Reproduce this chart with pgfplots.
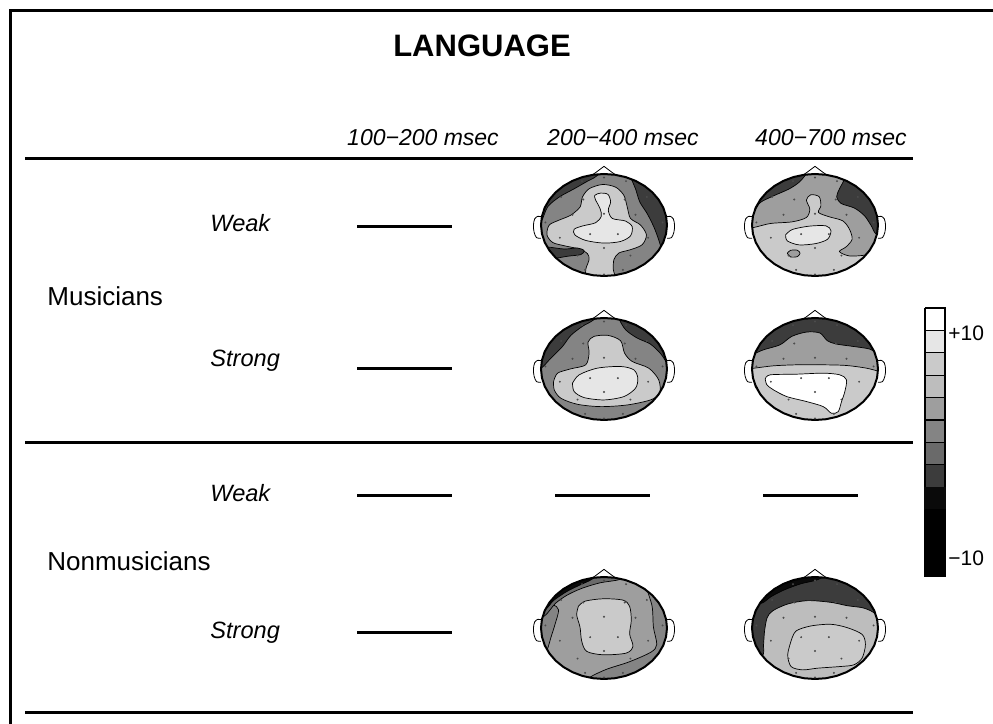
\documentclass[border=0pt]{standalone}
\usepackage{fontspec}
\setmainfont{Liberation Sans}
\usepackage{pgfplots}
\pgfplotsset{compat=1.18}
\usepackage{pgfplotstable}

\definecolor{g0}{HTML}{FFFFFF}
\definecolor{g1}{HTML}{E6E6E6}
\definecolor{g2}{HTML}{CACACA}
\definecolor{g3}{HTML}{BDBDBD}
\definecolor{g4}{HTML}{9E9E9E}
\definecolor{g5}{HTML}{848484}
\definecolor{g6}{HTML}{6A6A6A}
\definecolor{g7}{HTML}{3C3C3C}
\definecolor{g8}{HTML}{0A0A0A}

% unit head outline (10 degree steps)
\pgfplotstableread{
u v
1 0
0.985 0.174
0.940 0.342
0.866 0.5
0.766 0.643
0.643 0.766
0.5 0.866
0.342 0.940
0.174 0.985
0 1
-0.174 0.985
-0.342 0.940
-0.5 0.866
-0.643 0.766
-0.766 0.643
-0.866 0.5
-0.940 0.342
-0.985 0.174
-1 0
-0.985 -0.174
-0.940 -0.342
-0.866 -0.5
-0.766 -0.643
-0.643 -0.766
-0.5 -0.866
-0.342 -0.940
-0.174 -0.985
0 -1
0.174 -0.985
0.342 -0.940
0.5 -0.866
0.643 -0.766
0.766 -0.643
0.866 -0.5
0.940 -0.342
0.985 -0.174
1 0
}\headoutline

\pgfplotstableread{
u v
1 0
0.985 0.174
0.940 0.342
0.866 0.5
0.766 0.643
0.643 0.766
0.5 0.866
0.342 0.940
0.174 0.985
0 1
-0.174 0.985
-0.342 0.940
-0.5 0.866
-0.643 0.766
-0.766 0.643
-0.866 0.5
-0.940 0.342
-0.985 0.174
-1 0
-0.985 -0.174
-0.940 -0.342
-0.866 -0.5
-0.766 -0.643
-0.643 -0.766
-0.5 -0.866
-0.342 -0.940
-0.174 -0.985
0 -1
0.174 -0.985
0.342 -0.940
0.5 -0.866
0.643 -0.766
0.766 -0.643
0.866 -0.5
0.940 -0.342
0.985 -0.174
1 0
1.7 0
1.7 -1.7
-1.7 -1.7
-1.7 1.7
1.7 1.7
1.7 0
1 0
}\headmask

\pgfplotstableread{
u v
0 0.93
-0.35 0.86
0.35 0.86
-0.68 0.55
-0.33 0.5
0.33 0.5
0.68 0.55
-0.5 0.2
0 0.22
0.5 0.2
-0.93 0.05
0.93 0.05
-0.7 -0.25
-0.22 -0.18
0.22 -0.18
0.7 -0.25
0 -0.45
-0.42 -0.6
0.42 -0.6
-0.3 -0.88
0.3 -0.88
0 -0.97
}\electrodes

\pgfplotsset{
  headax/.style={hide axis, scale only axis, width=94.5pt, height=68.85pt,
    xmin=-1.5, xmax=1.5, ymin=-1.35, ymax=1.35, clip=true, anchor=center},
  zm/.style n args={4}{x filter/.expression={(x-#1)/#2}, y filter/.expression={(#3-y)/#4}},
  reg/.style={fill=#1, draw=black, line width=0.35pt, smooth, tension=0.5},
}

\newcommand{\headfinish}{%
  \addplot[fill=white, draw=none] table {\headmask};
  \addplot[only marks, mark=*, mark size=0.25pt, black!70] table {\electrodes};
  \addplot[fill=white, draw=black, line width=0.4pt] coordinates {(-0.18,0.984)(0,1.15)(0.18,0.984)};
  \addplot[fill=white, draw=black, line width=0.4pt, smooth] coordinates {(-0.99,0.16)(-1.05,0.17)(-1.10,0.12)(-1.12,0.0)(-1.11,-0.14)(-1.07,-0.25)(-1.0,-0.26)};
  \addplot[fill=white, draw=black, line width=0.4pt, smooth] coordinates {(0.99,0.16)(1.05,0.17)(1.10,0.12)(1.12,0.0)(1.11,-0.14)(1.07,-0.25)(1.0,-0.26)};
  \addplot[draw=black, line width=1pt] table {\headoutline};
}

\begin{document}
\begin{tikzpicture}

% ---------- Musicians, Weak, 200-400
\begin{axis}[headax, at={(302pt,249.5pt)}]
\addplot[fill=g5, draw=none] table {\headoutline};
\addplot[reg=g2, zm={250}{190}{195}{155}] coordinates {(195,365)(195,330)(205,300)(200,282)(175,268)(130,258)(95,248)(78,225)(85,195)(115,180)(150,165)(178,140)(185,110)(205,85)(245,72)(285,80)(310,105)(320,140)(330,175)(360,195)(378,225)(365,255)(330,270)(295,280)(280,300)(278,330)(280,365)(195,365)};
\addplot[reg=g1, zm={250}{190}{195}{155}] coordinates {(225,120)(222,105)(240,98)(262,102)(270,125)(263,150)(275,175)(315,183)(335,200)(330,228)(300,245)(250,250)(195,242)(162,225)(160,208)(185,198)(225,188)(242,168)(238,145)(225,120)};
\addplot[reg=g7, zm={250}{190}{195}{155}] coordinates {(30,200)(60,185)(80,140)(115,110)(160,85)(200,62)(225,48)(230,30)(30,30)(30,200)};
\addplot[reg=g7, zm={250}{190}{195}{155}] coordinates {(330,30)(330,48)(345,85)(358,125)(380,160)(400,200)(415,240)(425,275)(430,300)(470,330)(470,30)(330,30)};
\addplot[reg=g7, zm={250}{190}{195}{155}] coordinates {(30,262)(80,262)(130,268)(170,265)(190,273)(180,285)(140,290)(95,298)(30,308)(30,262)};
\headfinish
\end{axis}

% ---------- Musicians, Weak, 400-700
\begin{axis}[headax, at={(407.5pt,249.5pt)}]
\addplot[fill=g4, draw=none] table {\headoutline};
\addplot[reg=g2, zm={257.5}{187.5}{192.5}{152.5}] coordinates {(35,205)(75,200)(125,188)(190,183)(232,170)(242,145)(232,118)(245,102)(270,108)(275,135)(268,155)(300,168)(340,180)(360,205)(368,235)(350,258)(330,272)(360,285)(410,282)(440,270)(475,262)(475,355)(35,355)(35,205)};
\addplot[reg=g1, zm={257.5}{187.5}{192.5}{152.5}] coordinates {(170,222)(190,206)(240,196)(290,195)(305,210)(295,235)(260,248)(210,252)(175,240)(170,222)};
\addplot[reg=g4, zm={257.5}{187.5}{192.5}{152.5}] coordinates {(175,277)(185,268)(205,268)(213,277)(205,287)(185,288)(175,277)};
\addplot[reg=g7, zm={257.5}{187.5}{192.5}{152.5}] coordinates {(35,150)(75,150)(95,125)(135,105)(180,85)(210,65)(230,42)(235,30)(35,30)(35,150)};
\addplot[reg=g7, zm={257.5}{187.5}{192.5}{152.5}] coordinates {(345,30)(345,55)(330,85)(322,108)(335,128)(375,142)(405,165)(425,195)(440,220)(475,225)(475,30)(345,30)};
\headfinish
\end{axis}

% ---------- Musicians, Strong, 200-400
\begin{axis}[headax, at={(302pt,177.5pt)}]
\addplot[fill=g5, draw=none] table {\headoutline};
\addplot[reg=g2, zm={250}{190}{192.5}{152.5}] coordinates {(98,230)(110,205)(150,192)(195,180)(205,145)(202,112)(220,95)(262,92)(300,108)(312,145)(335,170)(385,190)(415,225)(418,265)(390,285)(320,300)(240,305)(170,298)(120,280)(100,255)(98,230)};
\addplot[reg=g1, zm={250}{190}{192.5}{152.5}] coordinates {(155,235)(175,210)(230,190)(300,185)(340,195)(352,220)(345,250)(310,275)(250,285)(190,278)(160,260)(155,235)};
\addplot[reg=g7, zm={250}{190}{192.5}{152.5}] coordinates {(30,195)(58,192)(90,160)(125,125)(150,92)(185,65)(215,48)(225,30)(30,30)(30,195)};
\addplot[reg=g7, zm={250}{190}{192.5}{152.5}] coordinates {(295,30)(295,42)(315,75)(350,100)(390,118)(422,148)(445,180)(475,185)(475,30)(295,30)};
\headfinish
\end{axis}

% ---------- Musicians, Strong, 400-700
\begin{axis}[headax, at={(407.5pt,177.5pt)}]
\addplot[fill=g4, draw=none] table {\headoutline};
\addplot[reg=g7, zm={255}{190}{192.5}{152.5}] coordinates {(30,150)(62,150)(100,135)(150,120)(185,95)(230,82)(270,85)(292,108)(320,118)(370,125)(420,133)(450,150)(480,150)(480,30)(30,30)(30,150)};
\addplot[reg=g2, zm={255}{190}{192.5}{152.5}] coordinates {(30,195)(72,190)(130,183)(200,180)(280,180)(350,182)(410,190)(452,200)(480,200)(480,355)(150,355)(120,310)(90,270)(75,240)(30,230)(30,195)};
\addplot[reg=g0, zm={255}{190}{192.5}{152.5}] coordinates {(105,222)(120,210)(200,208)(280,205)(330,210)(350,225)(345,260)(335,290)(325,320)(305,325)(280,305)(230,290)(170,275)(130,255)(110,240)(105,222)};
\headfinish
\end{axis}

% ---------- Nonmusicians, Strong, 200-400
\begin{axis}[headax, at={(302pt,48pt)}]
\addplot[fill=g4, draw=none] table {\headoutline};
\addplot[reg=g5, zm={252.5}{190.5}{202.5}{147.5}] coordinates {(30,130)(95,135)(115,150)(105,190)(92,230)(82,262)(65,300)(30,300)(30,130)};
\addplot[reg=g5, zm={252.5}{190.5}{202.5}{147.5}] coordinates {(378,45)(380,82)(398,140)(402,200)(412,250)(395,272)(330,300)(260,322)(210,345)(200,362)(478,362)(478,45)(378,45)};
\addplot[reg=g6, zm={252.5}{190.5}{202.5}{147.5}] coordinates {(30,175)(72,168)(105,132)(140,108)(185,88)(240,72)(300,62)(300,45)(30,45)(30,175)};
\addplot[reg=g8, zm={252.5}{190.5}{202.5}{147.5}] coordinates {(30,150)(75,148)(100,123)(140,97)(180,78)(215,62)(225,45)(30,45)(30,150)};
\addplot[reg=g2, zm={252.5}{190.5}{202.5}{147.5}] coordinates {(175,140)(195,125)(250,118)(310,122)(330,140)(335,180)(330,220)(340,255)(320,275)(250,280)(200,270)(185,240)(180,200)(170,165)(175,140)};
\headfinish
\end{axis}

% ---------- Nonmusicians, Strong, 400-700
\begin{axis}[headax, at={(407.5pt,48pt)}]
\addplot[fill=g3, draw=none] table {\headoutline};
\addplot[reg=g7, zm={252.5}{190.5}{201}{151}] coordinates {(40,320)(93,285)(97,250)(100,210)(108,170)(125,150)(170,130)(230,120)(300,125)(350,135)(400,142)(435,160)(448,200)(478,200)(478,38)(40,38)(40,320)};
\addplot[reg=g8, zm={252.5}{190.5}{201}{151}] coordinates {(40,130)(90,128)(120,108)(160,88)(210,70)(260,58)(280,38)(40,38)(40,130)};
\addplot[reg=g2, zm={252.5}{190.5}{201}{151}] coordinates {(180,240)(195,210)(240,195)(300,190)(350,200)(395,220)(405,250)(395,290)(370,310)(330,315)(260,320)(215,325)(180,315)(170,280)(180,240)};
\headfinish
\end{axis}

% ---------- main layout axis (pixel coordinates, y downwards)
\begin{axis}[at={(0,0)}, anchor=south west, scale only axis, width=496.5pt, height=362pt,
  xmin=0, xmax=993, ymin=0, ymax=724, y dir=reverse, hide axis, clip=false]
% frame
\addplot[black, line width=1.5pt, line join=miter] coordinates {(10.5,724)(10.5,10.5)(993,10.5)};
% rules
\addplot[black, line width=1.5pt] coordinates {(25,158)(913,158)};
\addplot[black, line width=1.5pt] coordinates {(25,442)(913,442)};
\addplot[black, line width=1.5pt] coordinates {(25,712)(913,712)};
% no-effect dashes
\addplot[black, line width=1.5pt] coordinates {(357,226)(452,226)};
\addplot[black, line width=1.5pt] coordinates {(357,368)(452,368)};
\addplot[black, line width=1.5pt] coordinates {(357,495)(452,495)};
\addplot[black, line width=1.5pt] coordinates {(555,495)(650,495)};
\addplot[black, line width=1.5pt] coordinates {(763,495)(858,495)};
\addplot[black, line width=1.5pt] coordinates {(357,632)(452,632)};
% colour bar
\addplot[fill=g0, draw=black, line width=0.6pt] coordinates {(925,308)(945,308)(945,330.4)(925,330.4)(925,308)};
\addplot[fill=g1, draw=black, line width=0.6pt] coordinates {(925,330.4)(945,330.4)(945,352.8)(925,352.8)(925,330.4)};
\addplot[fill=g2, draw=black, line width=0.6pt] coordinates {(925,352.8)(945,352.8)(945,375.2)(925,375.2)(925,352.8)};
\addplot[fill=g3, draw=black, line width=0.6pt] coordinates {(925,375.2)(945,375.2)(945,397.6)(925,397.6)(925,375.2)};
\addplot[fill=g4, draw=black, line width=0.6pt] coordinates {(925,397.6)(945,397.6)(945,420)(925,420)(925,397.6)};
\addplot[fill=g5, draw=black, line width=0.6pt] coordinates {(925,420)(945,420)(945,442.4)(925,442.4)(925,420)};
\addplot[fill=g6, draw=black, line width=0.6pt] coordinates {(925,442.4)(945,442.4)(945,464.8)(925,464.8)(925,442.4)};
\addplot[fill=g7, draw=black, line width=0.6pt] coordinates {(925,464.8)(945,464.8)(945,487.2)(925,487.2)(925,464.8)};
\addplot[fill=g8, draw=g8, line width=0.6pt] coordinates {(925,487.2)(945,487.2)(945,509.6)(925,509.6)(925,487.2)};
\addplot[fill=black, draw=black, line width=0.6pt] coordinates {(925,509.6)(945,509.6)(945,532)(925,532)(925,509.6)};
\addplot[fill=black, draw=black, line width=0.6pt] coordinates {(925,532)(945,532)(945,554.4)(925,554.4)(925,532)};
\addplot[fill=black, draw=black, line width=0.6pt] coordinates {(925,554.4)(945,554.4)(945,576.8)(925,576.8)(925,554.4)};
% texts
\node[anchor=base, inner sep=0pt, font=\fontsize{15.5}{18}\selectfont\bfseries] at (axis cs:482,56) {LANGUAGE};
\node[anchor=base, inner sep=0pt, font=\fontsize{11.5}{14}\selectfont\itshape] at (axis cs:423,145) {100−200 msec};
\node[anchor=base, inner sep=0pt, font=\fontsize{11.5}{14}\selectfont\itshape] at (axis cs:623,145) {200−400 msec};
\node[anchor=base, inner sep=0pt, font=\fontsize{11.5}{14}\selectfont\itshape] at (axis cs:831,145) {400−700 msec};
\node[anchor=base west, inner sep=0pt, font=\fontsize{13}{15}\selectfont] at (axis cs:47,305) {Musicians};
\node[anchor=base west, inner sep=0pt, font=\fontsize{13}{15}\selectfont] at (axis cs:47,570) {Nonmusicians};
\node[anchor=base west, inner sep=0pt, font=\fontsize{11.8}{14}\selectfont\itshape] at (axis cs:210,231) {Weak};
\node[anchor=base west, inner sep=0pt, font=\fontsize{11.8}{14}\selectfont\itshape] at (axis cs:210,366) {Strong};
\node[anchor=base west, inner sep=0pt, font=\fontsize{11.8}{14}\selectfont\itshape] at (axis cs:210,501) {Weak};
\node[anchor=base west, inner sep=0pt, font=\fontsize{11.8}{14}\selectfont\itshape] at (axis cs:210,638) {Strong};
\node[anchor=base west, inner sep=0pt, font=\fontsize{10.5}{12}\selectfont] at (axis cs:948,340) {+10};
\node[anchor=base west, inner sep=0pt, font=\fontsize{10.5}{12}\selectfont] at (axis cs:948,565) {−10};
\end{axis}

\pgfresetboundingbox
\path (0,0) rectangle (496.5pt,362pt);
\end{tikzpicture}
\end{document}
